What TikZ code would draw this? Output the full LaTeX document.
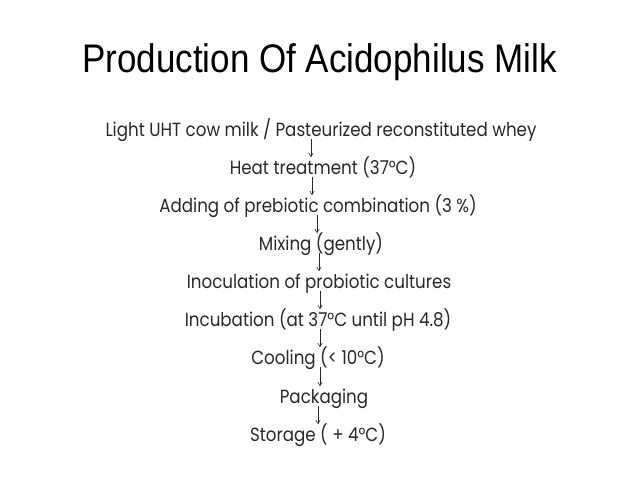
\documentclass[tikz,border=0pt]{standalone}
\usepackage{fontspec}
\setmainfont{Poppins}
\newfontfamily\titlefont{Liberation Sans}
\usetikzlibrary{arrows}
\definecolor{steptext}{RGB}{40,40,40}
\newcommand\tall[1]{\scalebox{1}[1.14]{#1}}

\begin{document}
\begin{tikzpicture}[x=1pt,y=-1pt]
\useasboundingbox (0,0) rectangle (638,479);
\node[anchor=base west,inner sep=0,font=\titlefont\fontsize{35}{40}\selectfont] (title) at (82,72) {\tall{Production Of Acidophilus Milk}};
\begin{scope}[every node/.style={anchor=base,text=steptext,inner sep=0pt,text height=15pt,text depth=3pt,font=\fontsize{16.7}{19}\selectfont}]
\node (milk) at (321,136) {\tall{Light UHT cow milk / Pasteurized reconstituted whey}};
\node (heat) at (323,174) {\tall{Heat treatment (37°C)}};
\node (prebiotic) at (318,212) {\tall{Adding of prebiotic combination (3 \%)}};
\node (mixing) at (321,250) {\tall{Mixing (gently)}};
\node (inoculation) at (319,288) {\tall{Inoculation of probiotic cultures}};
\node (incubation) at (318,326) {\tall{Incubation (at 37°C until pH 4.8)}};
\node (cooling) at (318,364) {\tall{Cooling (< 10°C)}};
\node (packaging) at (324,403) {\tall{Packaging}};
\node (storage) at (318,441) {\tall{Storage ( + 4°C)}};
\end{scope}
\path[->,>=angle 60,color=steptext,line width=0.6pt,shorten >=1.5pt]
(milk.south -| 311,0) edge (heat.north -| 311,0)
(heat.south -| 312,0) edge (prebiotic.north -| 312,0)
(prebiotic.south -| 317,0) edge (mixing.north -| 317,0)
(mixing.south -| 319,0) edge (inoculation.north -| 319,0)
(inoculation.south -| 320,0) edge (incubation.north -| 320,0)
(incubation.south -| 320,0) edge (cooling.north -| 320,0)
(cooling.south -| 320,0) edge (packaging.north -| 320,0)
(packaging.south -| 318,0) edge (storage.north -| 318,0);
\end{tikzpicture}
\end{document}
